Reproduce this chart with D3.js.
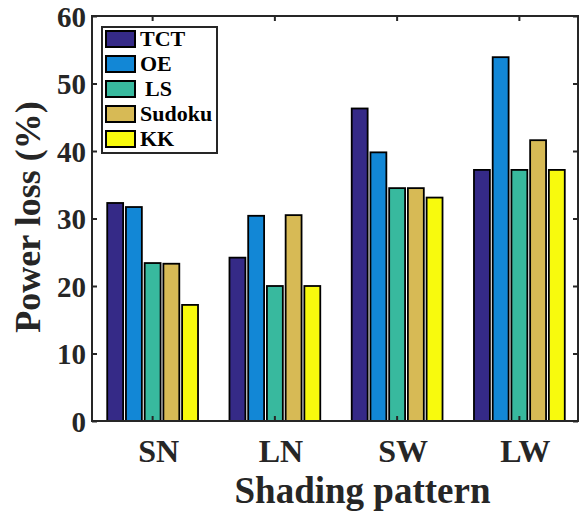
<!DOCTYPE html>
<html><head><meta charset="utf-8">
<script src="https://cdn.jsdelivr.net/npm/d3@7"></script>
<style>body{margin:0;background:#fff}svg{display:block}text{font-family:"Liberation Serif","Times New Roman",serif;font-weight:bold;fill:#262626}</style>
</head><body><svg id="c" width="579" height="515"></svg>
<script>
const categories = ["SN","LN","SW","LW"];
const seriesNames = ["TCT","OE","LS","Sudoku","KK"];
const TCT    = [32.3, 24.2, 46.3, 37.2];
const OE     = [31.7, 30.4, 39.8, 53.9];
const LS     = [23.4, 20.0, 34.5, 37.2];
const Sudoku = [23.3, 30.5, 34.5, 41.6];
const KK     = [17.2, 20.0, 33.1, 37.2];
const yTicks = [0,10,20,30,40,50,60];
const colors = ["#352a87","#1287d6","#38b99e","#d7ba55","#f8fa0d"];
const seriesValues = [TCT, OE, LS, Sudoku, KK];

const svg = d3.select("#c");
const L = 92, R = 578, T = 16, B = 421;
const x = d3.scaleBand().domain(categories).range([91.5, 580.5]).paddingInner(0).paddingOuter(0);
const xi = d3.scaleBand().domain(seriesNames).range([-45.4, 45.4]).paddingInner(0.15).paddingOuter(0);
const y = d3.scaleLinear().domain([0,60]).range([B, T]);

// bars
categories.forEach((c, ci) => {
  const g = svg.append("g").attr("transform", `translate(${x(c) + x.bandwidth()/2},0)`);
  seriesNames.forEach((s, si) => {
    const v = seriesValues[si][ci];
    g.append("rect")
      .attr("x", xi(s)).attr("width", xi.bandwidth())
      .attr("y", y(v)).attr("height", y(0) - y(v))
      .attr("fill", colors[si]).attr("stroke", "#000").attr("stroke-width", 1.8);
  });
});

// axes
const axisColor = "#262626";
const yAx = svg.append("g").attr("transform", `translate(${L},0)`)
  .call(d3.axisLeft(y).tickValues(yTicks).tickSize(-5).tickPadding(6));
yAx.selectAll("text").style("font-size", "29px").attr("dy", "0.36em");
const yAxR = svg.append("g").attr("transform", `translate(${R},0)`)
  .call(d3.axisRight(y).tickValues(yTicks).tickSize(-5).tickFormat(""));
const xAxT = svg.append("g").attr("transform", `translate(0,${T})`)
  .call(d3.axisTop(x).tickSize(-5).tickFormat(""));
const xAxB = svg.append("g").attr("transform", `translate(0,${B})`)
  .call(d3.axisBottom(x).tickSize(-5));
xAxB.selectAll("text").style("font-size", "32px").attr("y", 41).attr("dy", "0").attr("dx", "6");
[yAx, yAxR, xAxT, xAxB].forEach(a => {
  a.select(".domain").remove();
  a.selectAll("line").attr("stroke", axisColor).attr("stroke-width", 2);
});
svg.append("rect").attr("x", L).attr("y", T).attr("width", R - L).attr("height", B - T)
  .attr("fill", "none").attr("stroke", axisColor).attr("stroke-width", 2);

// axis titles
svg.append("text").attr("x", (228+497)/2).attr("y", 503).attr("text-anchor", "middle")
  .style("font-size", "37px").text("Shading pattern");
svg.append("text").attr("transform", "translate(40,217) rotate(-90)").attr("text-anchor", "middle")
  .style("font-size", "36px").text("Power loss (%)");

// legend
const lg = svg.append("g");
lg.append("rect").attr("x", 102).attr("y", 27).attr("width", 115).attr("height", 126)
  .attr("fill", "#fff").attr("stroke", "#262626").attr("stroke-width", 2);
seriesNames.forEach((s, i) => {
  const yy = 31 + i * 25;
  lg.append("rect").attr("x", 106).attr("y", yy).attr("width", 29).attr("height", 16)
    .attr("fill", colors[i]).attr("stroke", "#000").attr("stroke-width", 2);
  lg.append("text").attr("x", s === "LS" ? 145 : 140).attr("y", yy + 15)
    .style("font-size", "22px").style("fill", "#000").text(s);
});
</script></body></html>
